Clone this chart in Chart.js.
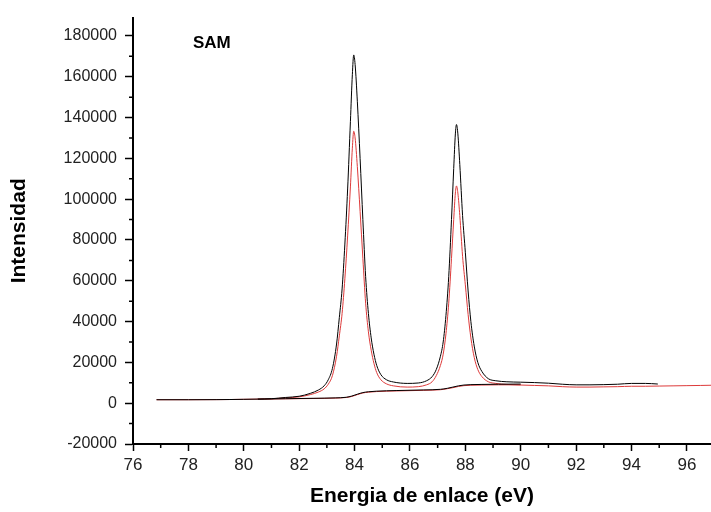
<!DOCTYPE html>
<html lang="es">
<head>
  <meta charset="UTF-8" />
  <title>SAM - Energia de enlace</title>
  <script src="https://cdn.jsdelivr.net/npm/chart.js"></script>
  <style>
    html, body { margin: 0; padding: 0; background: #fff; }
    #wrap { width: 711px; height: 512px; }
  </style>
</head>
<body>
<div id="wrap"><canvas id="grafico" width="711" height="512"></canvas></div>
<script>
// Espectro medido (negro)
const energiaNegro = [76.85, 78.0, 79.0, 79.5, 80.0, 80.5, 81.0, 81.5, 82.0, 82.4, 82.7, 82.9, 83.05, 83.2, 83.35, 83.45, 83.55, 83.65, 83.75, 83.85, 83.92, 83.97, 84.02, 84.1, 84.2, 84.3, 84.4, 84.5, 84.6, 84.7, 84.8, 84.95, 85.15, 85.4, 85.9, 86.3, 86.6, 86.8, 86.95, 87.1, 87.2, 87.3, 87.4, 87.5, 87.58, 87.64, 87.68, 87.73, 87.8, 87.9, 88.0, 88.1, 88.2, 88.32, 88.45, 88.6, 88.83, 89.1, 89.5, 90.0, 90.5, 91.0, 91.5, 92.0, 92.5, 93.0, 93.5, 94.0, 94.5, 94.95];
const intensidadNegro = [1700, 1700, 1750, 1800, 1900, 2000, 2200, 2800, 3400, 4800, 6500, 8500, 11500, 17000, 29000, 42000, 56000, 78000, 105000, 138000, 161000, 170700, 166000, 148000, 120000, 90000, 62000, 44000, 32000, 24000, 18500, 14000, 11500, 10400, 9700, 9900, 11000, 13000, 16500, 23000, 30000, 43000, 62000, 90000, 115000, 132000, 136600, 132000, 117000, 92000, 74000, 55000, 40000, 28000, 20000, 15500, 12000, 11000, 10500, 10300, 10100, 9800, 9300, 9000, 9000, 9100, 9300, 9700, 9700, 9400];

// Espectro (rojo)
const energiaRojo = [76.85, 78.0, 79.0, 79.5, 80.0, 80.5, 81.0, 81.5, 82.0, 82.4, 82.7, 82.9, 83.05, 83.2, 83.35, 83.45, 83.55, 83.65, 83.75, 83.85, 83.92, 83.97, 84.02, 84.1, 84.2, 84.3, 84.4, 84.5, 84.6, 84.7, 84.8, 84.95, 85.15, 85.4, 85.9, 86.3, 86.6, 86.8, 86.95, 87.1, 87.2, 87.3, 87.4, 87.5, 87.58, 87.64, 87.68, 87.73, 87.8, 87.9, 88.0, 88.1, 88.2, 88.32, 88.45, 88.6, 88.83, 89.1, 89.5, 90.0, 90.5, 91.0, 91.5, 92.0, 92.5, 93.0, 93.5, 94.0, 94.5, 95.0, 95.5, 96.0, 96.5, 96.9];
const intensidadRojo = [1700, 1700, 1750, 1800, 1900, 2000, 2150, 2600, 3100, 4200, 5500, 7000, 9300, 13500, 23000, 33000, 44000, 61000, 82000, 106000, 125000, 133300, 130000, 116000, 94000, 71000, 49000, 35000, 26000, 19500, 15000, 11500, 9500, 8500, 7900, 8100, 9000, 10500, 13500, 18500, 24000, 34000, 49000, 71000, 90000, 103000, 106500, 103000, 92000, 72000, 58000, 43500, 32000, 22500, 16500, 13000, 10500, 9700, 9200, 8900, 8700, 8500, 8100, 7900, 7900, 8000, 8100, 8300, 8300, 8400, 8500, 8600, 8700, 8800];

// Fondos (Shirley)
const energiaFondo = [80.5, 81.5, 82.5, 83.3, 83.7, 83.9, 84.1, 84.3, 84.5, 84.8, 85.5, 86.5, 87.1, 87.35, 87.55, 87.75, 87.95, 88.2, 88.6, 89.2, 90.0];
const fondoNegro = [2000, 2200, 2400, 2600, 2900, 3500, 4400, 5200, 5600, 5900, 6200, 6500, 6800, 7300, 7900, 8500, 8900, 9100, 9200, 9300, 9400];
const fondoRojo = [2000, 2150, 2300, 2500, 2800, 3300, 4200, 5000, 5400, 5700, 6000, 6300, 6600, 7100, 7600, 8200, 8600, 8800, 8900, 9000, 9000];

const ticksX = [76, 78, 80, 82, 84, 86, 88, 90, 92, 94, 96];
const ticksY = [-20000, 0, 20000, 40000, 60000, 80000, 100000, 120000, 140000, 160000, 180000];
const menoresX = [77, 79, 81, 83, 85, 87, 89, 91, 93, 95];
const menoresY = [-10000, 10000, 30000, 50000, 70000, 90000, 110000, 130000, 150000, 170000];

const FUENTE = "'Liberation Sans', Arial, sans-serif";
const ROJO = '#dd3a3a';

const puntos = (xs, ys) => xs.map((x, i) => ({ x, y: ys[i] }));
const serie = (data, color) => ({
  data, borderColor: color, borderWidth: 1, pointRadius: 0,
  showLine: true, fill: false, cubicInterpolationMode: 'monotone'
});

// ticks menores y la etiqueta del panel
const extras = {
  id: 'extras',
  afterDraw(chart) {
    const { ctx, scales: { x, y } } = chart;
    ctx.save();
    ctx.strokeStyle = '#000';
    ctx.lineWidth = 1.5;
    ctx.beginPath();
    menoresX.forEach(v => {
      const px = x.getPixelForValue(v);
      ctx.moveTo(px, y.bottom); ctx.lineTo(px, y.bottom + 4);
    });
    menoresY.forEach(v => {
      const py = y.getPixelForValue(v);
      ctx.moveTo(x.left, py); ctx.lineTo(x.left - 4, py);
    });
    ctx.stroke();
    ctx.fillStyle = '#000';
    ctx.font = `bold 17px ${FUENTE}`;
    ctx.textBaseline = 'middle';
    ctx.fillText('SAM', 193, 43);
    ctx.restore();
  }
};

new Chart(document.getElementById('grafico'), {
  type: 'scatter',
  data: {
    datasets: [
      serie(puntos(energiaNegro, intensidadNegro), '#000'),
      serie(puntos(energiaFondo, fondoNegro), '#000'),
      serie(puntos(energiaRojo, intensidadRojo), ROJO),
      serie(puntos(energiaFondo, fondoRojo), ROJO)
    ]
  },
  options: {
    responsive: false,
    animation: false,
    layout: { padding: { top: 17, right: 0, left: 0, bottom: 0 } },
    plugins: { legend: { display: false }, tooltip: { enabled: false } },
    scales: {
      x: {
        type: 'linear', min: 76, max: 96.87,
        afterBuildTicks: s => { s.ticks = ticksX.map(v => ({ value: v })); },
        afterFit: s => { s.height = 68; },
        border: { color: '#000', width: 2 },
        grid: { drawOnChartArea: false, tickLength: 7, tickColor: '#000', tickWidth: 1.5 },
        ticks: { color: '#222', font: { family: FUENTE, size: 17 }, padding: 4, maxRotation: 0 },
        title: { display: true, text: 'Energia de enlace (eV)', color: '#000',
                 font: { family: FUENTE, size: 21, weight: 'bold' }, padding: { top: 0, bottom: 3 } }
      },
      y: {
        type: 'linear', min: -20000, max: 189000,
        afterBuildTicks: s => { s.ticks = ticksY.map(v => ({ value: v })); },
        afterFit: s => { s.width = 133; },
        border: { color: '#000', width: 2 },
        grid: { drawOnChartArea: false, tickLength: 8, tickColor: '#000', tickWidth: 1.5 },
        ticks: { color: '#222', font: { family: FUENTE, size: 16 }, padding: 8,
                 callback: v => String(v) },
        title: { display: true, text: 'Intensidad', color: '#000',
                 font: { family: FUENTE, size: 21, weight: 'bold' }, padding: { top: 7, bottom: 0 } }
      }
    }
  },
  plugins: [extras]
});
</script>
</body>
</html>
